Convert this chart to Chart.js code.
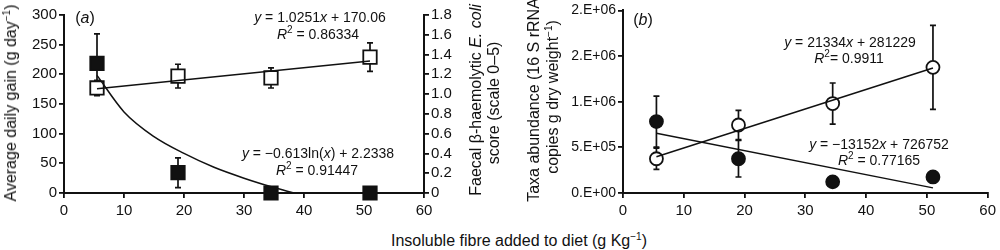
<!DOCTYPE html>
<html>
<head>
<meta charset="utf-8">
<title>Insoluble fibre chart</title>
<script src="https://cdn.jsdelivr.net/npm/chart.js@4/dist/chart.umd.min.js"></script>
<style>
  body { margin: 0; background: #fff; font-family: "Liberation Sans", Arial, sans-serif; color: #111; }
  #wrap { position: relative; width: 1000px; height: 250px; overflow: hidden; }
  canvas { position: absolute; top: 0; }
  .note { position: absolute; white-space: nowrap; font-size: 14px; transform: translate(-50%, -50%); }
  .vt { position: absolute; white-space: nowrap; font-size: 16px; transform: translate(-50%, -50%) rotate(-90deg); }
  .ht { position: absolute; white-space: nowrap; font-size: 16px; transform: translate(-50%, -50%); }
  sup { font-size: 10px; vertical-align: 6px; line-height: 0; }
</style>
</head>
<body>
<div id="wrap">
  <canvas id="chartA" width="470" height="225" style="left:0;width:470px;height:225px"></canvas>
  <canvas id="chartB" width="520" height="225" style="left:480px;width:520px;height:225px"></canvas>

  <div class="vt" style="left:11px;top:103px">Average daily gain (g day<sup>−1</sup>)</div>
  <div class="vt" style="left:476px;top:100px">Faecal β-haemolytic <i>E. coli</i></div>
  <div class="vt" style="left:494px;top:103px">score (scale 0–5)</div>
  <div class="vt" style="left:534px;top:100px">Taxa abundance (16 S rRNA</div>
  <div class="vt" style="left:553px;top:97px">copies g dry weight<sup>−1</sup>)</div>
  <div class="ht" style="left:519px;top:241px">Insoluble fibre added to diet (g Kg<sup>−1</sup>)</div>

  <div class="ht" style="left:85px;top:18px">(<i>a</i>)</div>
  <div class="ht" style="left:643px;top:20px">(<i>b</i>)</div>
  <div class="note" style="left:320px;top:17px"><i>y</i> = 1.0251<i>x</i> + 170.06</div>
  <div class="note" style="left:318px;top:34px"><i>R</i><sup>2</sup> = 0.86334</div>
  <div class="note" style="left:318px;top:153px"><i>y</i> = −0.613ln(<i>x</i>) + 2.2338</div>
  <div class="note" style="left:317px;top:170px"><i>R</i><sup>2</sup> = 0.91447</div>
  <div class="note" style="left:850px;top:42px"><i>y</i> = 21334<i>x</i> + 281229</div>
  <div class="note" style="left:849px;top:58px"><i>R</i><sup>2</sup>= 0.9911</div>
  <div class="note" style="left:879px;top:144px"><i>y</i> = −13152<i>x</i> + 726752</div>
  <div class="note" style="left:879px;top:160px"><i>R</i><sup>2</sup> = 0.77165</div>
</div>

<script>
// Fibre levels (g/kg) shared by both panels
const fibre = [5.5, 19, 34.5, 51];

// Panel (a): average daily gain (open squares, left axis)
const adg = [177, 197, 194, 229];
const adgErr = [13, 20, 17, 24];
const adgFitX = [5.5, 51];
const adgFit = [175.7, 222.3];

// Panel (a): E. coli score (filled squares, right axis)
const ecoli = [1.31, 0.205, 0, 0];
const ecoliErr = [0.30, 0.15, 0, 0];
const ecoliFitX = [5.5, 10, 15, 20, 25, 30, 35, 38.3];
const ecoliFit = [1.19, 0.82, 0.57, 0.40, 0.26, 0.15, 0.055, 0];

// Panel (b): taxa abundance
const taxaOpen = [375000, 745000, 980000, 1376000];
const taxaOpenErr = [116000, 160000, 225000, 460000];
const taxaOpenFitX = [5.5, 51];
const taxaOpenFit = [398000, 1369000];
const taxaFilled = [782000, 375000, 122000, 176000];
const taxaFilledErr = [280000, 200000, 0, 0];
const taxaFilledFitX = [5.5, 51];
const taxaFilledFit = [654000, 56000];

// Tick values and labels
const xTicks = [0, 10, 20, 30, 40, 50, 60];
const xLabels = ['0', '10', '20', '30', '40', '50', '60'];
const adgTicks = [0, 50, 100, 150, 200, 250, 300];
const adgLabels = ['0', '50', '100', '150', '200', '250', '300'];
const scoreTicks = [0, 0.2, 0.4, 0.6, 0.8, 1.0, 1.2, 1.4, 1.6, 1.8];
const scoreLabels = ['0', '0.2', '0.4', '0.6', '0.8', '1.0', '1.2', '1.4', '1.6', '1.8'];
const taxaTicks = [0, 500000, 1000000, 1500000, 2000000];
const taxaLabels = ['0.E+00', '5.E+05', '1.E+06', '2.E+06', '2.E+06'];

const INK = '#111';
const FAMILY = '"Liberation Sans", Arial, sans-serif';

function pts(xs, ys) {
  return xs.map((x, i) => ({ x: x, y: ys[i] }));
}

// Vertical error bars with caps, drawn under the markers
const errorBars = {
  id: 'errorBars',
  beforeDatasetsDraw(chart) {
    const ctx = chart.ctx;
    chart.data.datasets.forEach((ds, i) => {
      if (!ds.errors) return;
      const meta = chart.getDatasetMeta(i);
      const ys = chart.scales[meta.yAxisID];
      ctx.save();
      ctx.strokeStyle = INK;
      ctx.lineWidth = 1.7;
      meta.data.forEach((pt, j) => {
        const e = ds.errors[j];
        if (!e) return;
        const v = ds.data[j].y;
        const top = ys.getPixelForValue(v + e);
        const bot = ys.getPixelForValue(v - e);
        ctx.beginPath();
        ctx.moveTo(pt.x, top); ctx.lineTo(pt.x, bot);
        ctx.moveTo(pt.x - 3, top); ctx.lineTo(pt.x + 3, top);
        ctx.moveTo(pt.x - 3, bot); ctx.lineTo(pt.x + 3, bot);
        ctx.stroke();
      });
      ctx.restore();
    });
  }
};

function axis(opts) {
  const base = {
    type: 'linear',
    min: opts.min,
    max: opts.max,
    position: opts.position,
    grid: { display: true, drawOnChartArea: false, drawTicks: true, tickLength: 5, color: INK, lineWidth: 1.8 },
    border: { display: true, color: INK, width: 2 },
    ticks: {
      color: INK,
      font: { family: FAMILY, size: opts.size || 15 },
      padding: opts.padding,
      autoSkip: false,
      maxRotation: 0,
      callback: (v, i) => opts.labels[i]
    },
    afterBuildTicks: (scale) => { scale.ticks = opts.values.map(v => ({ value: v })); }
  };
  if (opts.width !== undefined) base.afterFit = (scale) => { scale.width = opts.width; };
  if (opts.height !== undefined) base.afterFit = (scale) => { scale.height = opts.height; };
  return base;
}

function trend(xs, ys, axisId) {
  return {
    type: 'line',
    data: pts(xs, ys),
    yAxisID: axisId,
    borderColor: INK,
    borderWidth: 1.5,
    pointRadius: 0,
    fill: false,
    tension: 0.4,
    cubicInterpolationMode: 'monotone',
    clip: false
  };
}

function markers(xs, ys, errs, axisId, style, filled, radius) {
  return {
    type: 'scatter',
    data: pts(xs, ys),
    errors: errs,
    yAxisID: axisId,
    pointStyle: style,
    pointRadius: radius,
    pointBackgroundColor: filled ? INK : '#fff',
    pointBorderColor: INK,
    pointBorderWidth: 1.8,
    clip: false
  };
}

Chart.defaults.devicePixelRatio = 1;

new Chart(document.getElementById('chartA'), {
  type: 'scatter',
  data: {
    datasets: [
      trend(ecoliFitX, ecoliFit, 'y2'),
      trend(adgFitX, adgFit, 'y'),
      markers(fibre, ecoli, ecoliErr, 'y2', 'rect', true, 9.5),
      markers(fibre, adg, adgErr, 'y', 'rect', false, 9.5)
    ]
  },
  options: {
    responsive: false,
    animation: false,
    layout: { padding: { top: 15, left: 0, right: 0, bottom: 0 } },
    plugins: { legend: { display: false }, tooltip: { enabled: false } },
    scales: {
      x: axis({ min: 0, max: 60, position: 'bottom', values: xTicks, labels: xLabels, padding: 4, height: 32 }),
      y: axis({ min: 0, max: 300, position: 'left', values: adgTicks, labels: adgLabels, padding: 2, width: 64 }),
      y2: axis({ min: 0, max: 1.8, position: 'right', values: scoreTicks, labels: scoreLabels, padding: 2, width: 46 })
    }
  },
  plugins: [errorBars]
});

new Chart(document.getElementById('chartB'), {
  type: 'scatter',
  data: {
    datasets: [
      trend(taxaFilledFitX, taxaFilledFit, 'y'),
      trend(taxaOpenFitX, taxaOpenFit, 'y'),
      markers(fibre, taxaFilled, taxaFilledErr, 'y', 'circle', true, 6.5),
      markers(fibre, taxaOpen, taxaOpenErr, 'y', 'circle', false, 6.5)
    ]
  },
  options: {
    responsive: false,
    animation: false,
    layout: { padding: { top: 8, left: 0, right: 8, bottom: 0 } },
    plugins: { legend: { display: false }, tooltip: { enabled: false } },
    scales: {
      x: axis({ min: 0, max: 60, position: 'bottom', values: xTicks, labels: xLabels, padding: 4, height: 32 }),
      y: axis({ min: 0, max: 2000000, position: 'left', values: taxaTicks, labels: taxaLabels, padding: 2, width: 143, size: 14 })
    }
  },
  plugins: [errorBars]
});
</script>
</body>
</html>
